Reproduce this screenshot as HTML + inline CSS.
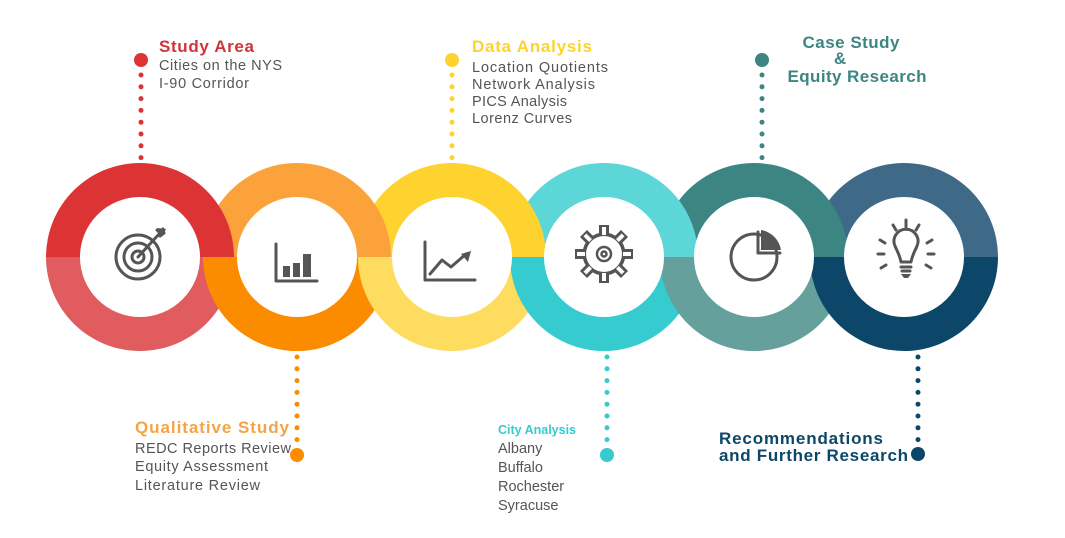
<!DOCTYPE html>
<html><head><meta charset="utf-8"><style>
html,body{margin:0;padding:0;background:#fff;}
svg{display:block}
.t{font-family:"Liberation Sans",sans-serif;}
</style></head><body>
<svg width="1065" height="538" viewBox="0 0 1065 538" xmlns="http://www.w3.org/2000/svg">
<!-- top halves, right to left -->
<path d="M810,257 A94,94 0 0 1 998,257 Z" fill="#3E6A87"/>
<path d="M660,257 A94,94 0 0 1 848,257 Z" fill="#3C8582"/>
<path d="M510,257 A94,94 0 0 1 698,257 Z" fill="#5DD6D8"/>
<path d="M358,257 A94,94 0 0 1 546,257 Z" fill="#FED330"/>
<path d="M203,257 A94,94 0 0 1 391,257 Z" fill="#FBA23A"/>
<path d="M46,257 A94,94 0 0 1 234,257 Z" fill="#DC3434"/>
<!-- bottom halves, left to right -->
<path d="M46,257 A94,94 0 0 0 234,257 Z" fill="#E05C5E"/>
<path d="M203,257 A94,94 0 0 0 391,257 Z" fill="#FB8C00"/>
<path d="M358,257 A94,94 0 0 0 546,257 Z" fill="#FEDC60"/>
<path d="M510,257 A94,94 0 0 0 698,257 Z" fill="#35CBCF"/>
<path d="M660,257 A94,94 0 0 0 848,257 Z" fill="#65A09D"/>
<path d="M810,257 A94,94 0 0 0 998,257 Z" fill="#0C4769"/>
<g fill="#fff">
<circle cx="140" cy="257" r="60"/><circle cx="297" cy="257" r="60"/><circle cx="452" cy="257" r="60"/>
<circle cx="604" cy="257" r="60"/><circle cx="754" cy="257" r="60"/><circle cx="904" cy="257" r="60"/>
</g>
<!-- icons -->
<g fill="none" stroke="#555" stroke-width="3" stroke-linecap="round" stroke-linejoin="round">
 <circle cx="138" cy="257" r="22"/><circle cx="138" cy="257" r="14"/><circle cx="138" cy="257" r="6"/>
 <path d="M138,257 L160,233"/><path d="M157,230 L160,233 L163,229 M160,236 L164,233"/>
 <path d="M276,244 V281 H317"/>
 <path d="M425,242 V280 H475"/><path d="M430,274 L442,260 L451,267 L466,254"/>
 <circle cx="604" cy="254" r="20"/><circle cx="604" cy="254" r="7"/>
 <circle cx="754" cy="257" r="23"/><path d="M758,232 V253 H780"/>
 <path d="M895,246 A12,12 0 1 1 917,246 C914,253 912,256 911,262 H901 C900,256 898,253 895,246 Z"/>
 <path d="M901,267 H911 M902,271 H910"/>
 <path d="M906,220 V227 M893,225 L896,230 M919,225 L916,230 M880,240 L885,243 M932,240 L927,243 M878,254 H884 M928,254 H934 M881,268 L886,265 M931,268 L926,265"/>
</g>
<g fill="#555">
 <path d="M157,228 L166,229 L163,236 Z"/>
 <rect x="283" y="266" width="7" height="11"/><rect x="293" y="263" width="7" height="14"/><rect x="303" y="254" width="8" height="23"/>
 <path d="M461,254 L471,251 L468,262 Z"/>
 <path d="M761,230 A24,24 0 0 1 781,250 H761 Z"/>
 <path d="M901,274 H911 L908,278 H904 Z"/>
 <g transform="translate(604,254)">
  <rect x="-5" y="-29" width="10" height="10"/><rect x="-5" y="-29" width="10" height="10" transform="rotate(45)"/>
  <rect x="-5" y="-29" width="10" height="10" transform="rotate(90)"/><rect x="-5" y="-29" width="10" height="10" transform="rotate(135)"/>
  <rect x="-5" y="-29" width="10" height="10" transform="rotate(180)"/><rect x="-5" y="-29" width="10" height="10" transform="rotate(225)"/>
  <rect x="-5" y="-29" width="10" height="10" transform="rotate(270)"/><rect x="-5" y="-29" width="10" height="10" transform="rotate(315)"/>
  <circle r="21"/>
 </g>
</g>
<g transform="translate(604,254)" fill="#fff">
 <g>
  <rect x="-2" y="-27" width="4" height="8"/><rect x="-2" y="-27" width="4" height="8" transform="rotate(45)"/>
  <rect x="-2" y="-27" width="4" height="8" transform="rotate(90)"/><rect x="-2" y="-27" width="4" height="8" transform="rotate(135)"/>
  <rect x="-2" y="-27" width="4" height="8" transform="rotate(180)"/><rect x="-2" y="-27" width="4" height="8" transform="rotate(225)"/>
  <rect x="-2" y="-27" width="4" height="8" transform="rotate(270)"/><rect x="-2" y="-27" width="4" height="8" transform="rotate(315)"/>
 </g>
 <circle r="18"/>
</g>
<g fill="none" stroke="#555" stroke-width="2.5"><circle cx="604" cy="254" r="7"/><circle cx="604" cy="254" r="2.5"/></g>
<!-- dotted connectors -->
<g fill="#DC3434"><circle cx="141" cy="60" r="7"/></g>
<path d="M141,75 V159" stroke="#DC3434" stroke-width="5" stroke-linecap="round" stroke-dasharray="0 11.8"/>
<g fill="#FED330"><circle cx="452" cy="60" r="7"/></g>
<path d="M452,75 V159" stroke="#FED330" stroke-width="5" stroke-linecap="round" stroke-dasharray="0 11.8"/>
<g fill="#3C8582"><circle cx="762" cy="60" r="7"/></g>
<path d="M762,75 V159" stroke="#3C8582" stroke-width="5" stroke-linecap="round" stroke-dasharray="0 11.8"/>
<g fill="#FB8C00"><circle cx="297" cy="455" r="7"/></g>
<path d="M297,357 V441" stroke="#FB8C00" stroke-width="5" stroke-linecap="round" stroke-dasharray="0 11.8"/>
<g fill="#35CBCF"><circle cx="607" cy="455" r="7"/></g>
<path d="M607,357 V441" stroke="#35CBCF" stroke-width="5" stroke-linecap="round" stroke-dasharray="0 11.8"/>
<g fill="#0C4769"><circle cx="918" cy="454" r="7"/></g>
<path d="M918,357 V441" stroke="#0C4769" stroke-width="5" stroke-linecap="round" stroke-dasharray="0 11.8"/>
<!-- text -->
<g class="t">
<text x="159" y="52" font-size="17" font-weight="bold" fill="#D0343A" textLength="95">Study Area</text>
<g font-size="14.5" fill="#555">
<text x="159" y="70" textLength="123">Cities on the NYS</text>
<text x="159" y="88" textLength="90">I-90 Corridor</text>
</g>
<text x="472" y="52" font-size="17" font-weight="bold" fill="#FED330" textLength="120">Data Analysis</text>
<g font-size="14.5" fill="#555">
<text x="472" y="72" textLength="136">Location Quotients</text>
<text x="472" y="89" textLength="123">Network Analysis</text>
<text x="472" y="106" textLength="95">PICS Analysis</text>
<text x="472" y="123" textLength="100">Lorenz Curves</text>
</g>
<g font-size="17" font-weight="bold" fill="#3C8582" text-anchor="middle">
<text x="851" y="48" textLength="97">Case Study</text>
<text x="840" y="64">&amp;</text>
<text x="857" y="82" textLength="139">Equity Research</text>
</g>
<text x="135" y="433" font-size="17" font-weight="bold" fill="#F5A444" textLength="154">Qualitative Study</text>
<g font-size="14.5" fill="#555">
<text x="135" y="453" textLength="156">REDC Reports Review</text>
<text x="135" y="471" textLength="133">Equity Assessment</text>
<text x="135" y="490" textLength="125">Literature Review</text>
</g>
<text x="498" y="434" font-size="12.5" font-weight="bold" fill="#35CBCF" textLength="78">City Analysis</text>
<g font-size="14.5" fill="#555">
<text x="498" y="453">Albany</text>
<text x="498" y="472">Buffalo</text>
<text x="498" y="491">Rochester</text>
<text x="498" y="510">Syracuse</text>
</g>
<g font-size="17" font-weight="bold" fill="#0C4769">
<text x="719" y="444" textLength="164">Recommendations</text>
<text x="719" y="461" textLength="189">and Further Research</text>
</g>
</g>
</svg>
</body></html>
